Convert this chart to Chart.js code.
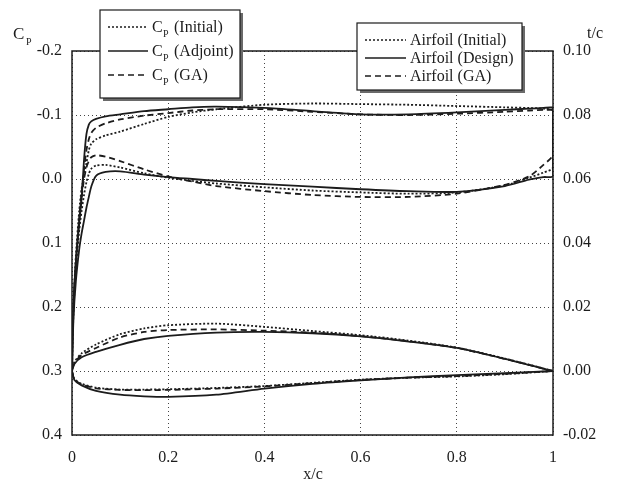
<!DOCTYPE html>
<html>
<head>
<meta charset="utf-8">
<script src="https://cdn.jsdelivr.net/npm/chart.js@4.4.1/dist/chart.umd.min.js"></script>
<style>
  html, body { margin: 0; background: #fff; }
</style>
</head>
<body>
<canvas id="chart" width="625" height="480"></canvas>
<script>
// x/c stations used for the pressure curves
const xCp = [0, 0.003, 0.008, 0.015, 0.02, 0.025, 0.03, 0.035, 0.04, 0.05, 0.07, 0.1, 0.15, 0.2, 0.25, 0.3, 0.4, 0.5, 0.6, 0.7, 0.8, 0.9, 0.95, 0.98, 1.0];

// Cp, upper surface
const cpInitialUpper = [0.3, 0.2, 0.12, 0.05, 0.015, -0.005, -0.025, -0.045, -0.055, -0.062, -0.068, -0.074, -0.086, -0.097, -0.104, -0.109, -0.116, -0.118, -0.117, -0.116, -0.114, -0.112, -0.111, -0.11, -0.108];
const cpAdjointUpper = [0.3, 0.2, 0.13, 0.07, 0.03, -0.03, -0.07, -0.085, -0.09, -0.094, -0.098, -0.101, -0.106, -0.109, -0.112, -0.113, -0.111, -0.106, -0.101, -0.101, -0.104, -0.108, -0.11, -0.111, -0.112];
const cpGAUpper = [0.3, 0.2, 0.13, 0.06, 0.02, -0.015, -0.045, -0.062, -0.072, -0.08, -0.087, -0.093, -0.099, -0.103, -0.107, -0.109, -0.109, -0.105, -0.101, -0.1, -0.102, -0.105, -0.107, -0.108, -0.108];

// Cp, lower surface
const cpInitialLower = [0.3, 0.21, 0.14, 0.08, 0.05, 0.025, 0.005, -0.008, -0.016, -0.021, -0.022, -0.018, -0.009, -0.002, 0.003, 0.007, 0.013, 0.018, 0.021, 0.023, 0.021, 0.01, -0.002, -0.01, -0.018];
const cpAdjointLower = [0.3, 0.22, 0.16, 0.11, 0.085, 0.065, 0.045, 0.028, 0.012, -0.005, -0.011, -0.012, -0.007, -0.003, 0.0, 0.003, 0.008, 0.012, 0.016, 0.019, 0.02, 0.011, 0.001, -0.003, -0.005];
const cpGALower = [0.3, 0.2, 0.13, 0.065, 0.03, 0.0, -0.018, -0.028, -0.034, -0.037, -0.035, -0.028, -0.015, -0.004, 0.004, 0.011, 0.019, 0.025, 0.028, 0.028, 0.023, 0.009, -0.004, -0.022, -0.038];

// x/c stations for the airfoil shapes
const xAf = [0, 0.005, 0.02, 0.05, 0.1, 0.15, 0.2, 0.3, 0.4, 0.5, 0.6, 0.7, 0.8, 0.9, 1.0];

// t/c, upper and lower surfaces
const afInitialUpper = [0, 0.0028, 0.0055, 0.0083, 0.0115, 0.0133, 0.0143, 0.0148, 0.0138, 0.0125, 0.0112, 0.0095, 0.0073, 0.0039, 0];
const afDesignUpper = [0, 0.0022, 0.0043, 0.006, 0.0082, 0.01, 0.011, 0.012, 0.0122, 0.0118, 0.0108, 0.0092, 0.0072, 0.0038, 0];
const afGAUpper = [0, 0.0025, 0.005, 0.0072, 0.0105, 0.0122, 0.0128, 0.013, 0.0126, 0.012, 0.0109, 0.0093, 0.0072, 0.0038, 0];
const afInitialLower = [0, -0.0025, -0.004, -0.0052, -0.0058, -0.0058, -0.0057, -0.0053, -0.0047, -0.0037, -0.0027, -0.0021, -0.0017, -0.001, 0];
const afDesignLower = [0, -0.0028, -0.0045, -0.0062, -0.0074, -0.0079, -0.0081, -0.0074, -0.0055, -0.004, -0.0029, -0.002, -0.0013, -0.0007, 0];
const afGALower = [0, -0.0026, -0.0042, -0.0054, -0.0059, -0.006, -0.0059, -0.0055, -0.0048, -0.0038, -0.0028, -0.0021, -0.0016, -0.0009, 0];

// Tick and legend text
const cpTicks = [-0.2, -0.1, 0.0, 0.1, 0.2, 0.3, 0.4];
const tcTicks = [-0.02, 0.0, 0.02, 0.04, 0.06, 0.08, 0.10];
const cpLabels = ["(Initial)", "(Adjoint)", "(GA)"];
const afLabels = ["Airfoil (Initial)", "Airfoil (Design)", "Airfoil (GA)"];

const INK = "#1c1c1c";
const DOT = [2, 2];
const DASH = [6, 4];
const styles = [DOT, [], DASH];

// closed loop: upper surface TE -> LE, lower surface LE -> TE, back to upper TE
function loop(xs, upper, lower) {
  const pts = [];
  for (let i = xs.length - 1; i >= 0; i--) pts.push({ x: xs[i], y: upper[i] });
  for (let i = 0; i < xs.length; i++) pts.push({ x: xs[i], y: lower[i] });
  pts.push({ x: xs[xs.length - 1], y: upper[xs.length - 1] });
  return pts;
}

function curve(data, dash, axis) {
  return {
    data, yAxisID: axis, showLine: true, pointRadius: 0,
    borderColor: INK, borderWidth: 1.8, borderDash: dash, tension: 0.25, fill: false
  };
}

const datasets = [
  curve(loop(xCp, cpInitialUpper, cpInitialLower), DOT, "cp"),
  curve(loop(xCp, cpAdjointUpper, cpAdjointLower), [], "cp"),
  curve(loop(xCp, cpGAUpper, cpGALower), DASH, "cp"),
  curve(loop(xAf, afInitialUpper, afInitialLower), DOT, "tc"),
  curve(loop(xAf, afDesignUpper, afDesignLower), [], "tc"),
  curve(loop(xAf, afGAUpper, afGALower), DASH, "tc")
];

const SERIF = '"Liberation Serif", "DejaVu Serif", serif';

function legendBox(ctx, x, y, w, h) {
  ctx.fillStyle = "#6a6a6a";
  ctx.fillRect(x + 3, y + 3, w, h);
  ctx.fillStyle = "#fff";
  ctx.fillRect(x, y, w, h);
  ctx.strokeStyle = INK;
  ctx.lineWidth = 1.2;
  ctx.setLineDash([]);
  ctx.strokeRect(x, y, w, h);
}

function sample(ctx, x0, x1, y, dash) {
  ctx.save();
  ctx.strokeStyle = INK;
  ctx.lineWidth = 1.6;
  ctx.setLineDash(dash);
  ctx.beginPath();
  ctx.moveTo(x0, y);
  ctx.lineTo(x1, y);
  ctx.stroke();
  ctx.restore();
}

const overlay = {
  id: "overlay",
  afterDraw(chart) {
    const { ctx, chartArea: a } = chart;
    ctx.save();
    // solid frame round the plot
    ctx.strokeStyle = INK;
    ctx.lineWidth = 1.5;
    ctx.setLineDash([]);
    ctx.strokeRect(a.left, a.top, a.right - a.left, a.bottom - a.top);

    // axis titles
    ctx.fillStyle = INK;
    ctx.textBaseline = "alphabetic";
    ctx.font = "17px " + SERIF;
    ctx.fillText("C", 13, 39);
    ctx.font = "10px " + SERIF;
    ctx.fillText("P", 26, 45);
    ctx.font = "16px " + SERIF;
    ctx.fillText("t/c", 587, 38);
    ctx.textAlign = "center";
    ctx.fillText("x/c", 313, 479);
    ctx.textAlign = "left";

    // Cp legend
    legendBox(ctx, 100, 10, 140, 88);
    [27, 51, 75].forEach((yy, i) => {
      sample(ctx, 108, 148, yy, styles[i]);
      ctx.fillStyle = INK;
      ctx.font = "16px " + SERIF;
      ctx.fillText("C", 152, yy + 5);
      ctx.font = "10px " + SERIF;
      ctx.fillText("P", 163, yy + 10);
      ctx.font = "16px " + SERIF;
      ctx.fillText(cpLabels[i], 174, yy + 5);
    });

    // airfoil legend
    legendBox(ctx, 357, 23, 165, 67);
    [40, 58, 76].forEach((yy, i) => {
      sample(ctx, 365, 406, yy, styles[i]);
      ctx.fillStyle = INK;
      ctx.font = "16px " + SERIF;
      ctx.fillText(afLabels[i], 410, yy + 5);
    });
    ctx.restore();
  }
};

const gridStyle = { color: "#444", lineWidth: 1, drawTicks: false };
const borderStyle = { display: false, dash: [1, 3] };
const tickFont = { family: SERIF, size: 16 };

new Chart(document.getElementById("chart"), {
  type: "scatter",
  data: { datasets },
  options: {
    responsive: false,
    devicePixelRatio: 1,
    animation: false,
    layout: { padding: { top: 51, left: 0, right: 0, bottom: 0 } },
    plugins: { legend: { display: false }, tooltip: { enabled: false } },
    scales: {
      x: {
        type: "linear", position: "bottom", min: 0, max: 1,
        grid: gridStyle, border: borderStyle,
        ticks: {
          stepSize: 0.2, padding: 13, color: INK, font: tickFont,
          callback: v => (v === 0 || v === 1) ? String(v) : v.toFixed(1)
        },
        afterFit: s => { s.height = 45; }
      },
      cp: {
        type: "linear", position: "left", min: -0.2, max: 0.4, reverse: true,
        grid: gridStyle, border: borderStyle,
        afterBuildTicks: s => { s.ticks = cpTicks.map(v => ({ value: v })); },
        ticks: { padding: 10, color: INK, font: tickFont, callback: v => v.toFixed(1) },
        afterFit: s => { s.width = 72; }
      },
      tc: {
        type: "linear", position: "right", min: -0.02, max: 0.10,
        grid: { display: false, drawTicks: false }, border: { display: false },
        afterBuildTicks: s => { s.ticks = tcTicks.map(v => ({ value: v })); },
        ticks: { padding: 10, color: INK, font: tickFont, callback: v => v.toFixed(2) },
        afterFit: s => { s.width = 72; }
      }
    }
  },
  plugins: [overlay]
});
</script>
</body>
</html>
